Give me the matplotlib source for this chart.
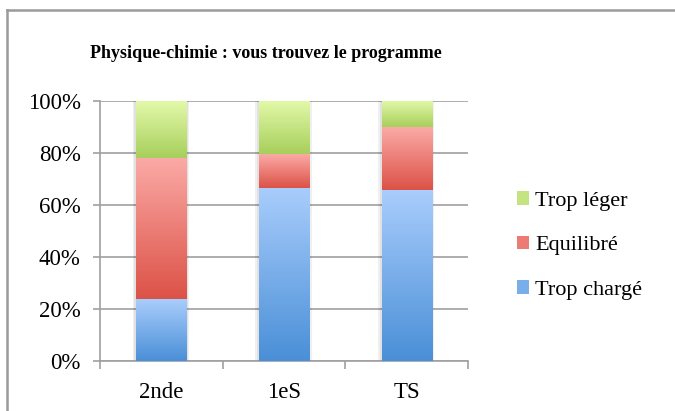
import numpy as np
import matplotlib
matplotlib.use('agg')
import matplotlib.pyplot as plt
from matplotlib.colors import to_rgb
from matplotlib.lines import Line2D
from matplotlib.patches import Patch


TITLE = 'Physique-chimie : vous trouvez le programme'
categories = ['2nde', '1eS', 'TS']
series = ['Trop chargé', 'Equilibré', 'Trop léger']
trop_charge = [23.8, 66.6, 65.7]
equilibre = [54.3, 13.0, 24.2]
trop_leger = [21.9, 20.4, 10.1]
y_ticks = [0, 20, 40, 60, 80, 100]
y_labels = ['0%', '20%', '40%', '60%', '80%', '100%']

# (top colour, bottom colour) of each gradient
grad_colors = [('#a9cdfc', '#4a8fd7'), ('#fbaaa6', '#dc5247'), ('#e3f9aa', '#a7cf5b')]
mid_colors = ['#78aeea', '#ec7b74', '#c4e482']

FONT = 'Liberation Serif'
plt.rcParams['font.family'] = FONT


def gradient_fill(ax, patch, top, bottom):
    x, y = patch.get_x(), patch.get_y()
    w, h = patch.get_width(), patch.get_height()
    t = np.linspace(0, 1, 128)[:, None]
    img = (1 - t) * np.array(to_rgb(top)) + t * np.array(to_rgb(bottom))
    img = np.repeat(img[:, None, :], 2, axis=1)
    ax.imshow(img, extent=[x, x + w, y, y + h], aspect='auto',
              interpolation='bilinear', zorder=3)


fig = plt.figure(figsize=(6.75, 4.11), dpi=100)
W, H = 675, 411
ax = fig.add_axes([100 / W, (H - 361) / H, (468 - 100) / W, (361 - 101) / H])

x = np.arange(len(categories))
bar_w = 0.41
values = [trop_charge, equilibre, trop_leger]

# faint shadow behind bars
totals = np.sum(values, axis=0)
ax.bar(x - 0.005, totals, width=bar_w + 0.05, color='#000000', alpha=0.06, zorder=2)
ax.bar(x - 0.003, totals, width=bar_w + 0.025, color='#000000', alpha=0.06, zorder=2)

bottom = np.zeros(len(categories))
for vals, (top_c, bot_c) in zip(values, grad_colors):
    bars = ax.bar(x, vals, width=bar_w, bottom=bottom, color='none', zorder=3)
    for p in bars:
        gradient_fill(ax, p, top_c, bot_c)
    bottom += np.array(vals)

ax.set_xlim(-0.5, len(categories) - 0.5)
ax.set_ylim(0, 100)
ax.set_yticks(y_ticks)
ax.set_yticklabels(y_labels, fontsize=16.5)
ax.set_xticks(x)
ax.set_xticklabels(categories, fontsize=16.5)
ax.set_xticks(np.arange(len(categories) + 1) - 0.5, minor=True)

ax.grid(axis='y', color='#a0a0a0', linewidth=1.2, zorder=1)
ax.set_axisbelow(True)
for s in ['top', 'right']:
    ax.spines[s].set_visible(False)
for s in ['left', 'bottom']:
    ax.spines[s].set_color('#a0a0a0')
    ax.spines[s].set_linewidth(1.2)
ax.tick_params(axis='y', length=5, width=1.2, color='#a0a0a0', pad=9)
ax.tick_params(axis='x', which='major', length=0, pad=15)
ax.tick_params(axis='x', which='minor', length=6, width=1.2, color='#a0a0a0')

fig.text(266 / W, 1 - 53 / H, TITLE, ha='center', va='center',
         fontsize=13, fontweight='bold')

handles = [Patch(facecolor=c, edgecolor='none') for c in mid_colors][::-1]
fig.legend(handles, series[::-1], loc='center left',
           bbox_to_anchor=(506 / W, 1 - 245.5 / H), frameon=False,
           fontsize=16, handlelength=0.55, handleheight=0.55,
           handletextpad=0.25, labelspacing=1.12, borderpad=0)

# outer chart frame (right and bottom edges are cut off)
fig.add_artist(Line2D([7 / W, 1], [1 - 10.5 / H, 1 - 10.5 / H], color='#9a9a9a', lw=1.8))
fig.add_artist(Line2D([7 / W, 7 / W], [0, 1 - 10.5 / H], color='#9a9a9a', lw=1.8))

fig.savefig('out.png', dpi=100, facecolor='white')
